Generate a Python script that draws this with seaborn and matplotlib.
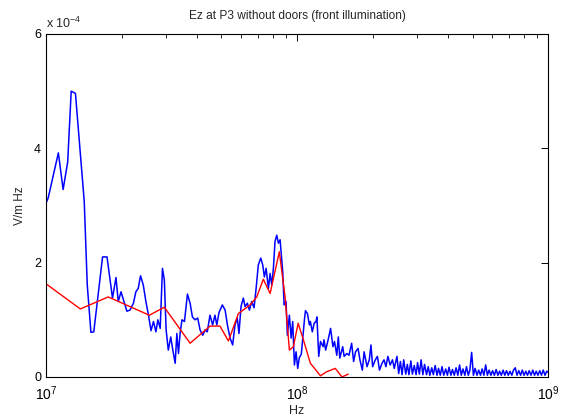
import pandas as pd
import matplotlib
matplotlib.use("Agg")
import matplotlib.pyplot as plt
import seaborn as sns

# Datos: frecuencia en MHz, campo en unidades de 1e-4 V/m Hz

freq_azul = [10.0, 10.2, 11.2, 11.7, 12.2, 12.6, 13.1, 14.2, 14.6, 15.1,
             15.5, 16.3, 16.8, 17.5, 18.4, 19.0, 19.4, 19.9, 20.5, 21.0,
             21.6, 22.3, 22.8, 23.3, 23.8, 24.4, 25.0, 25.6, 26.2, 26.8,
             27.4, 27.9, 28.5, 29.1, 29.6, 30.1, 30.7, 31.4, 32.0, 32.7,
             33.2, 33.7, 34.2, 34.8, 35.6, 36.6, 37.5, 38.3, 39.2, 40.2,
             41.1, 42.1, 43.0, 43.9, 45.0, 46.1, 47.1, 47.9, 48.9, 50.4,
             51.7, 52.8, 54.1, 55.4, 56.6, 57.8, 58.7, 59.8, 61.1, 62.1,
             63.4, 64.6, 66.0, 67.4, 68.7, 70.1, 71.7, 73.0, 74.1, 75.3,
             76.9, 78.1, 79.3, 80.5, 81.7, 83.0, 84.3, 85.6, 86.4, 87.7,
             88.8, 90.4, 91.5, 93.2, 94.7, 96.1, 97.6, 99.1, 100.6, 102,
             104, 107, 108, 110, 112, 113, 115, 117, 119, 120,
             122, 124, 127, 128, 130, 133, 136, 139, 141, 144,
             146, 148, 152, 154, 158, 161, 165, 168, 171, 175,
             178, 182, 185, 190, 194, 197, 200, 205, 209, 213,
             218, 222, 226, 230, 235, 240, 244,
             250, 254, 258, 262, 266, 271, 275, 279, 284, 288,
             293, 298, 302, 307, 312, 317, 322, 328, 333, 338,
             344, 349, 355, 361, 366, 372, 378, 384, 391, 397,
             403, 410, 416, 423, 430, 437, 444, 451, 458, 466,
             473, 481, 488, 496, 504, 512, 521, 529, 538, 546,
             555, 564, 573, 582, 592, 601, 611, 621, 631, 641,
             651, 662, 672, 683, 694, 705, 717, 728, 740, 752,
             764, 777, 789, 802, 815, 828, 841, 855, 869, 883,
             897, 911, 926, 941, 956, 972, 987, 1000]
campo_azul = [3.04, 3.13, 3.92, 3.28, 3.76, 5.00, 4.96, 3.07, 1.61, 0.78,
              0.79, 1.61, 2.10, 2.10, 1.38, 1.74, 1.32, 1.49, 1.30, 1.15,
              1.17, 1.29, 1.49, 1.55, 1.77, 1.61, 1.32, 1.08, 0.81, 0.97,
              0.79, 1.00, 0.85, 1.90, 1.70, 0.82, 0.47, 0.70, 0.47, 0.24,
              0.76, 0.41, 0.76, 1.00, 0.97, 1.45, 1.29, 1.05, 1.00, 1.03,
              0.82, 0.73, 0.82, 0.79, 1.08, 0.91, 1.08, 0.91, 1.13, 1.26,
              1.17, 0.91, 0.68, 0.56, 0.91, 1.03, 0.76, 1.23, 1.38, 1.23,
              1.29, 1.17, 1.32, 1.21, 1.55, 1.96, 2.08, 1.96, 1.75, 1.90,
              1.55, 1.81, 1.61, 1.90, 2.37, 2.48, 2.34, 2.40, 2.19, 1.84,
              1.26, 1.32, 0.73, 1.08, 0.68, 0.97, 0.21, 0.44, 0.15, 0.33,
              0.40, 1.00, 1.16, 1.11, 0.91, 0.97, 0.79, 0.94, 0.97, 1.05,
              0.36, 0.62, 0.53, 0.65, 0.47, 0.65, 0.85, 0.53, 0.62, 0.38,
              0.70, 0.33, 0.53, 0.36, 0.41, 0.38, 0.59, 0.27, 0.44, 0.50,
              0.30, 0.12, 0.44, 0.18, 0.30, 0.56, 0.18, 0.30, 0.36, 0.12,
              0.24, 0.30, 0.18, 0.36, 0.21, 0.30, 0.15,
              0.36, 0.06, 0.27, 0.04, 0.30, 0.05, 0.22, 0.04, 0.28, 0.05,
              0.20, 0.04, 0.25, 0.05, 0.30, 0.04, 0.22, 0.04, 0.18, 0.03,
              0.16, 0.04, 0.20, 0.03, 0.15, 0.03, 0.18, 0.03, 0.14, 0.03,
              0.17, 0.03, 0.13, 0.03, 0.16, 0.03, 0.21, 0.03, 0.14, 0.03,
              0.18, 0.03, 0.12, 0.43, 0.03, 0.15, 0.03, 0.12, 0.03, 0.14,
              0.03, 0.21, 0.03, 0.12, 0.03, 0.11, 0.03, 0.13, 0.03, 0.10,
              0.03, 0.12, 0.03, 0.11, 0.03, 0.10, 0.03, 0.12, 0.16, 0.03,
              0.11, 0.03, 0.12, 0.03, 0.10, 0.03, 0.11, 0.03, 0.12, 0.03,
              0.10, 0.03, 0.11, 0.03, 0.12, 0.03, 0.10, 0.08]

freq_rojo = [10.0, 13.7, 17.7, 25.8, 29.6, 37.5, 45.0, 49.3, 53.3, 58.4,
             65.0, 69.1, 73.4, 78.1, 85.0, 89.6, 93.2, 96.7, 101, 106,
             113, 124, 131, 142, 151, 160]
campo_rojo = [1.63, 1.19, 1.40, 1.08, 1.22, 0.59, 0.89, 0.89, 0.63, 1.11,
              1.26, 1.40, 1.71, 1.46, 2.19, 1.40, 0.47, 0.53, 0.94, 0.65,
              0.24, 0.02, 0.09, 0.15, 0.00, 0.05]

# Paso a unidades reales (Hz y V/m Hz)

df_azul = pd.DataFrame({'Hz': [f * 1e6 for f in freq_azul],
                        'campo': [v * 1e-4 for v in campo_azul]})
df_rojo = pd.DataFrame({'Hz': [f * 1e6 for f in freq_rojo],
                        'campo': [v * 1e-4 for v in campo_rojo]})

# Estilo tipo MATLAB

sns.set_theme(style="white")
plt.rcParams['font.family'] = ['Liberation Sans', 'DejaVu Sans']
plt.rcParams['mathtext.default'] = 'regular'
plt.rcParams['xtick.direction'] = 'in'
plt.rcParams['ytick.direction'] = 'in'

fig = plt.figure(figsize=(5.61, 4.17), dpi=100)
ax = fig.add_axes([0.082, 0.096, 0.895, 0.8225])

sns.lineplot(data=df_azul, x='Hz', y='campo', color='#0000ff', lw=1.1,
             estimator=None, sort=False, ax=ax)
sns.lineplot(data=df_rojo, x='Hz', y='campo', color='#ff0000', lw=1.0,
             estimator=None, sort=False, ax=ax)

ax.set_xscale('log')
ax.set_xlim(1e7, 1e9)
ax.set_ylim(0, 6e-4)
ax.set_yticks([0, 2e-4, 4e-4, 6e-4])
ax.set_yticklabels(['0', '2', '4', '6'])

ax.tick_params(which='both', top=True, right=True, labelsize=9, colors='black')
ax.tick_params(which='major', length=5, width=0.7)
ax.tick_params(which='minor', length=3, width=0.6)
ax.tick_params(axis='x', which='major', pad=5, labelsize=10)
for s in ax.spines.values():
    s.set_color('black')
    s.set_linewidth(0.8)

ax.text(0.0, 1.008, r'x 10$^{-4}$', transform=ax.transAxes, fontsize=9,
        ha='left', va='bottom')
ax.set_title('Ez at P3 without doors (front illumination)', fontsize=8.6, pad=11)
ax.set_xlabel('Hz', fontsize=9, labelpad=2)
ax.set_ylabel('V/m Hz', fontsize=8.5, labelpad=6)

plt.savefig('out.png', dpi=100)
